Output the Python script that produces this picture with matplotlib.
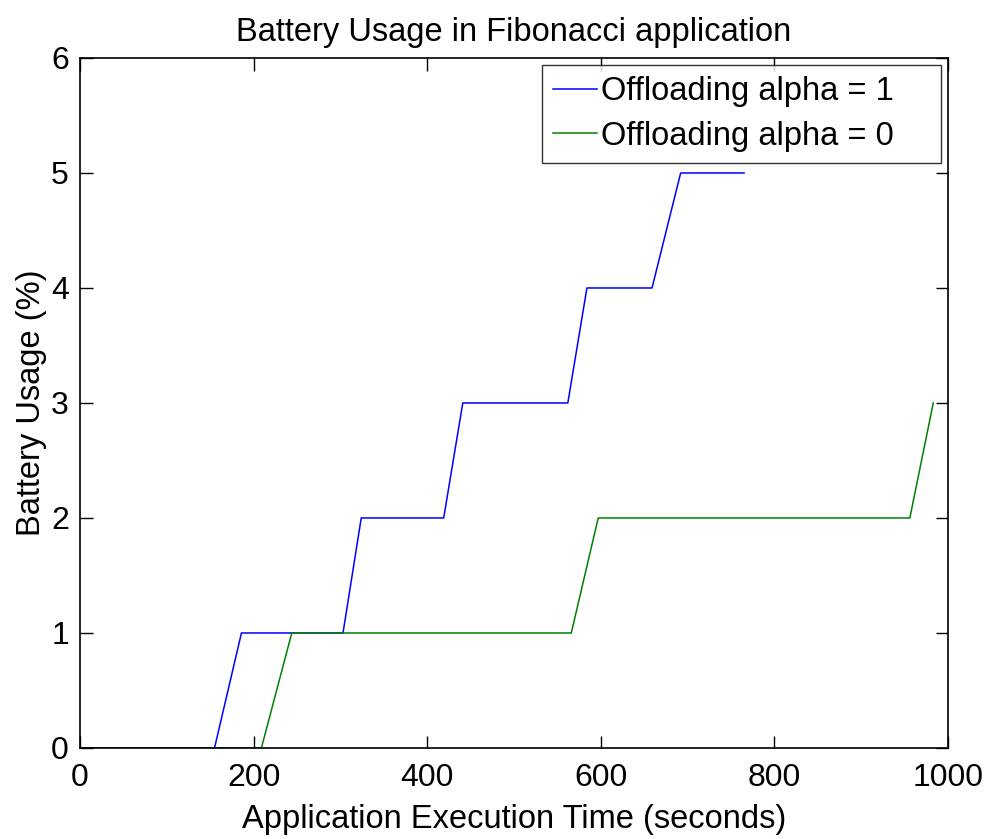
import matplotlib
matplotlib.use("Agg")
import matplotlib.pyplot as plt

# data
alpha1_t = [0, 155, 186, 303, 324, 419, 441, 562, 584, 659, 692, 765]
alpha1_b = [0, 0, 1, 1, 2, 2, 3, 3, 4, 4, 5, 5]
alpha0_t = [0, 209, 244, 566, 597, 956, 983]
alpha0_b = [0, 0, 1, 1, 2, 2, 3]

plt.rcParams['font.family'] = ['Liberation Sans', 'DejaVu Sans']

fig = plt.figure(figsize=(9.9, 8.39), dpi=100)
ax = fig.add_axes([0.0808, 0.1085, 0.8768, 0.8224])

ax.plot(alpha1_t, alpha1_b, color='#0000ff', lw=1.1, label='Offloading alpha = 1')
ax.plot(alpha0_t, alpha0_b, color='#008000', lw=1.1, label='Offloading alpha = 0')

ax.set_xlim(0, 1000)
ax.set_ylim(0, 6)
ax.set_xticks([0, 200, 400, 600, 800, 1000])
ax.set_yticks([0, 1, 2, 3, 4, 5, 6])
ax.tick_params(direction='in', top=True, right=True, length=9, width=1, labelsize=23)
ax.tick_params(axis='x', pad=11)
ax.tick_params(axis='y', pad=8)
for s in ax.spines.values():
    s.set_linewidth(1.2)

ax.set_title('Battery Usage in Fibonacci application', fontsize=23.5, pad=12)
ax.set_xlabel('Application Execution Time (seconds)', fontsize=23.5, labelpad=8)
ax.set_ylabel('Battery Usage (%)', fontsize=23.5, labelpad=3)

# matlab-style legend: wide frame with room on the right
leg = ax.legend(loc='upper right', fontsize=23.5, frameon=True, fancybox=False,
                edgecolor='black', handlelength=1.35, handletextpad=0.1,
                borderpad=0.35, labelspacing=0.42, borderaxespad=0.2)
leg.get_frame().set_linewidth(1.0)
for t in leg.get_texts():
    t.set_text(t.get_text() + '    ')

fig.savefig('out.png', dpi=100)
